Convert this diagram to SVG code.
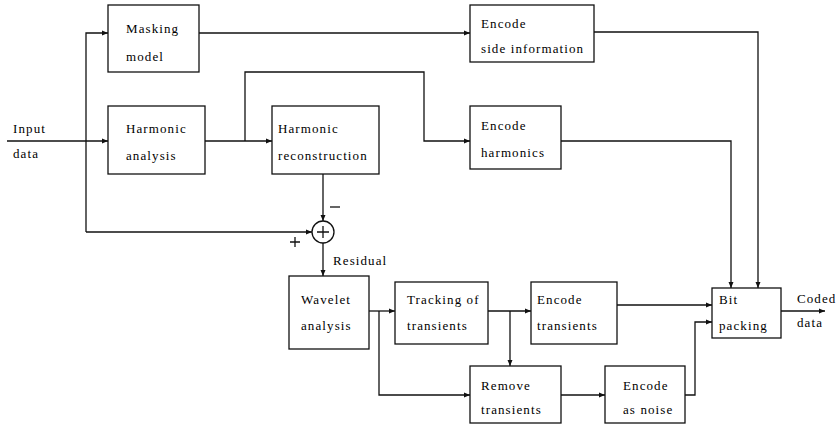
<svg xmlns="http://www.w3.org/2000/svg" width="838" height="424" viewBox="0 0 838 424">
<defs>
<marker id="ah" markerWidth="6" markerHeight="6" refX="6" refY="3" orient="auto" markerUnits="userSpaceOnUse">
<path d="M0,0.5 L6,3 L0,5.5 z" fill="#111"/>
</marker>
<style>
.b{fill:#fff;stroke:#111;stroke-width:1.3}
.c{fill:none;stroke:#111;stroke-width:1.3}
.a{marker-end:url(#ah)}
.t{font-family:'Liberation Serif','DejaVu Serif',serif;font-size:13px;letter-spacing:1.1px;fill:#000}
.s{font-family:'DejaVu Sans',sans-serif;font-size:15px;fill:#000}
</style>
</defs>
<rect width="838" height="424" fill="#fff"/>
<g id="connectors">
<path class="c a" d="M7,141 H108"/>
<path class="c a" d="M86,232 V33 H108"/>
<path class="c a" d="M86,232 H312"/>
<path class="c a" d="M199,33 H470"/>
<path class="c a" d="M205,141 H272"/>
<path class="c a" d="M245,141 V72 H424 V141 H470"/>
<path class="c a" d="M323,174 V221"/>
<path class="c a" d="M323,243 V276"/>
<path class="c a" d="M594,32 H758 V288"/>
<path class="c a" d="M561,141 H731 V288"/>
<path class="c a" d="M369,311 H395"/>
<path class="c a" d="M379,311 V395 H470"/>
<path class="c a" d="M488,311 H531"/>
<path class="c a" d="M510,311 V366"/>
<path class="c a" d="M617,305 H712"/>
<path class="c a" d="M561,395 H605"/>
<path class="c a" d="M685,395 H695 V322 H712"/>
<path class="c a" d="M781,311 H825"/>
</g>
<g class="t">
<g id="input-label"><text x="13" y="133">Input</text><text x="13" y="158">data</text></g>
<g id="masking"><rect class="b" x="108" y="5" width="91" height="67"/><text x="126" y="33">Masking</text><text x="126" y="61">model</text></g>
<g id="harm-analysis"><rect class="b" x="108" y="106" width="97" height="68"/><text x="126" y="133">Harmonic</text><text x="126" y="160">analysis</text></g>
<g id="harm-recon"><rect class="b" x="272" y="106" width="107" height="68"/><text x="278" y="133">Harmonic</text><text x="278" y="160">reconstruction</text></g>
<g id="enc-side"><rect class="b" x="470" y="5" width="124" height="57"/><text x="481" y="28">Encode</text><text x="481" y="53">side information</text></g>
<g id="enc-harm"><rect class="b" x="470" y="106" width="91" height="63"/><text x="481" y="130">Encode</text><text x="481" y="157">harmonics</text></g>
<g id="sum"><circle class="b" cx="323" cy="232" r="11"/><path class="c" d="M317,232 H329 M323,226 V238"/>
<path class="c" d="M330,207 H340"/><path class="c" d="M290,242 H300 M295,237 V247"/></g>
<g id="residual-label"><text x="333" y="265">Residual</text></g>
<g id="wavelet"><rect class="b" x="289" y="276" width="80" height="73"/><text x="301" y="304">Wavelet</text><text x="301" y="330">analysis</text></g>
<g id="tracking"><rect class="b" x="395" y="282" width="93" height="62"/><text x="407" y="304">Tracking of</text><text x="407" y="330">transients</text></g>
<g id="enc-trans"><rect class="b" x="531" y="282" width="86" height="62"/><text x="537" y="304">Encode</text><text x="537" y="330">transients</text></g>
<g id="remove"><rect class="b" x="470" y="366" width="91" height="57"/><text x="481" y="390">Remove</text><text x="481" y="414">transients</text></g>
<g id="enc-noise"><rect class="b" x="605" y="366" width="80" height="57"/><text x="623" y="390">Encode</text><text x="623" y="414">as noise</text></g>
<g id="bitpack"><rect class="b" x="712" y="288" width="69" height="50"/><text x="719" y="304">Bit</text><text x="719" y="330">packing</text></g>
<g id="output-label"><text x="797" y="303">Coded</text><text x="797" y="327">data</text></g>
</g>
</svg>
